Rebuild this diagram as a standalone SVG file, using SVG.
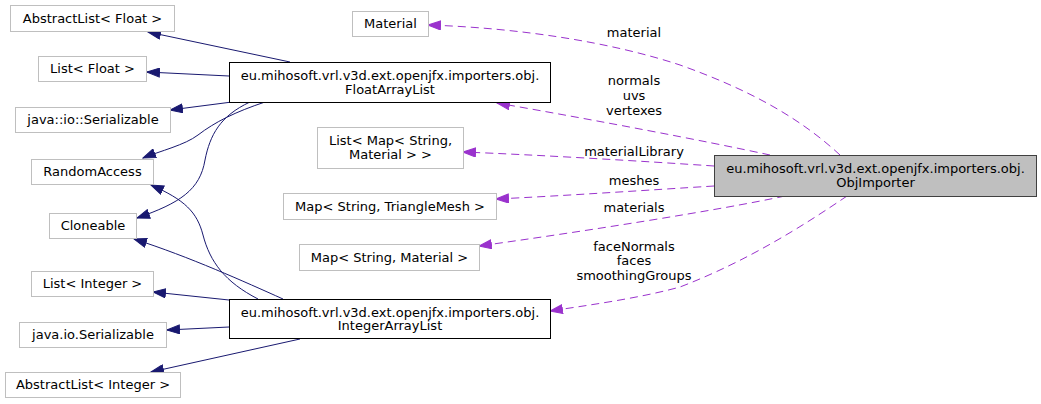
<svg xmlns="http://www.w3.org/2000/svg" width="1041" height="404" viewBox="0 0 1041 404">
  <style>
    text { font-family: "DejaVu Sans", "Liberation Sans", sans-serif; font-size: 13px; text-anchor: middle; fill: #000000; }
    .ext rect { fill: #ffffff; stroke: #bfbfbf; stroke-width: 1; }
    .cls rect { fill: #ffffff; stroke: #000000; stroke-width: 1; }
    .main rect { fill: #bfbfbf; stroke: #404040; stroke-width: 1; }
    .inh { fill: none; stroke: #191970; stroke-width: 1; marker-end: url(#arrowInh); }
    .use { fill: none; stroke: #9a32cd; stroke-width: 1; stroke-dasharray: 8,5; marker-end: url(#arrowUse); }
  </style>
  <defs>
    <marker id="arrowInh" viewBox="0 0 14 10" refX="13" refY="5" markerWidth="14" markerHeight="10" markerUnits="userSpaceOnUse" orient="auto">
      <path d="M0.5,0.5 L13,5 L0.5,9.5 z" fill="#191970" stroke="#191970" stroke-dasharray="none"/>
    </marker>
    <marker id="arrowUse" viewBox="0 0 14 10" refX="13" refY="5" markerWidth="14" markerHeight="10" markerUnits="userSpaceOnUse" orient="auto">
      <path d="M0.5,0.5 L13,5 L0.5,9.5 z" fill="#9a32cd" stroke="#9a32cd" stroke-dasharray="none"/>
    </marker>
  </defs>
  <rect width="1041" height="404" fill="#ffffff"/>

  <!-- connectors -->
  <g id="edges">
    <!-- inheritance: FloatArrayList -->
    <path class="inh" d="M290,62 L148,32"/>
    <path class="inh" d="M229,76 L147,72"/>
    <path class="inh" d="M232,102 L170,110"/>
    <path class="inh" d="M265,102 C235,112 215,122 198,135 C185,145 160,151 143,158"/>
    <path class="inh" d="M250,102 C220,116 210,135 205,160 C200,190 180,203 137,218"/>
    <!-- inheritance: IntegerArrayList -->
    <path class="inh" d="M258,299 C225,282 210,262 203,235 C197,212 185,200 151,185"/>
    <path class="inh" d="M283,299 C245,282 190,257 134,239"/>
    <path class="inh" d="M229,300 L153,292"/>
    <path class="inh" d="M229,327 L167,330"/>
    <path class="inh" d="M300,339 L151,372"/>
    <!-- usage: ObjImporter members -->
    <path class="use" d="M840,155 C800,118 750,90 680,65 C610,42 520,28 428,25"/>
    <path class="use" d="M770,155 C700,140 600,121 497,103"/>
    <path class="use" d="M714,166 C640,161 540,155 463,152"/>
    <path class="use" d="M714,186 C650,190 560,196 496,199"/>
    <path class="use" d="M785,196 C720,210 580,232 479,246"/>
    <path class="use" d="M847,196 C800,228 745,262 680,287 C640,298 590,305 550,311"/>
    <!-- edge labels -->
    <text x="634" y="36.5">material</text>
    <text x="634" y="84.5">normals</text>
    <text x="634" y="99.5">uvs</text>
    <text x="634" y="114.5">vertexes</text>
    <text x="634" y="156">materialLibrary</text>
    <text x="634" y="184.5">meshes</text>
    <text x="634" y="211.5">materials</text>
    <text x="634" y="250.5">faceNormals</text>
    <text x="634" y="265">faces</text>
    <text x="634" y="279.5">smoothingGroups</text>
  </g>

  <!-- nodes -->
  <g id="node-abstractlist-float" class="ext">
    <rect x="10.5" y="5.5" width="164" height="26"/>
    <text x="92.5" y="22.5">AbstractList&lt; Float &gt;</text>
  </g>
  <g id="node-list-float" class="ext">
    <rect x="38.5" y="56.5" width="108" height="25"/>
    <text x="92.5" y="73">List&lt; Float &gt;</text>
  </g>
  <g id="node-java-io-serializable-ns" class="ext">
    <rect x="15.5" y="107.5" width="155" height="25"/>
    <text x="93" y="124">java::io::Serializable</text>
  </g>
  <g id="node-randomaccess" class="ext">
    <rect x="31.5" y="159.5" width="122" height="25"/>
    <text x="92.5" y="176">RandomAccess</text>
  </g>
  <g id="node-cloneable" class="ext">
    <rect x="49.5" y="213.5" width="87" height="25"/>
    <text x="93" y="230">Cloneable</text>
  </g>
  <g id="node-list-integer" class="ext">
    <rect x="31.5" y="271.5" width="122" height="25"/>
    <text x="92.5" y="288">List&lt; Integer &gt;</text>
  </g>
  <g id="node-java-io-serializable" class="ext">
    <rect x="19.5" y="322.5" width="147" height="25"/>
    <text x="93" y="339">java.io.Serializable</text>
  </g>
  <g id="node-abstractlist-integer" class="ext">
    <rect x="5.5" y="372.5" width="175" height="25"/>
    <text x="93" y="389">AbstractList&lt; Integer &gt;</text>
  </g>
  <g id="node-floatarraylist" class="cls">
    <rect x="229.5" y="62.5" width="321" height="40"/>
    <text x="390" y="80">eu.mihosoft.vrl.v3d.ext.openjfx.importers.obj.</text>
    <text x="390" y="94">FloatArrayList</text>
  </g>
  <g id="node-integerarraylist" class="cls">
    <rect x="229.5" y="299.5" width="321" height="39"/>
    <text x="390" y="316.5">eu.mihosoft.vrl.v3d.ext.openjfx.importers.obj.</text>
    <text x="390" y="330">IntegerArrayList</text>
  </g>
  <g id="node-material" class="ext">
    <rect x="352.5" y="11.5" width="76" height="25"/>
    <text x="390.5" y="28">Material</text>
  </g>
  <g id="node-list-map-material" class="ext">
    <rect x="317.5" y="127.5" width="146" height="41"/>
    <text x="390.5" y="144.5">List&lt; Map&lt; String,</text>
    <text x="390.5" y="158.5">Material &gt; &gt;</text>
  </g>
  <g id="node-map-trianglemesh" class="ext">
    <rect x="283.5" y="193.5" width="213" height="26"/>
    <text x="390" y="210.5">Map&lt; String, TriangleMesh &gt;</text>
  </g>
  <g id="node-map-material" class="ext">
    <rect x="299.5" y="244.5" width="180" height="26"/>
    <text x="389.5" y="261.5">Map&lt; String, Material &gt;</text>
  </g>
  <g id="node-objimporter" class="main">
    <rect x="714.5" y="155.5" width="322" height="41"/>
    <text x="875.5" y="173">eu.mihosoft.vrl.v3d.ext.openjfx.importers.obj.</text>
    <text x="875.5" y="187">ObjImporter</text>
  </g>
</svg>
